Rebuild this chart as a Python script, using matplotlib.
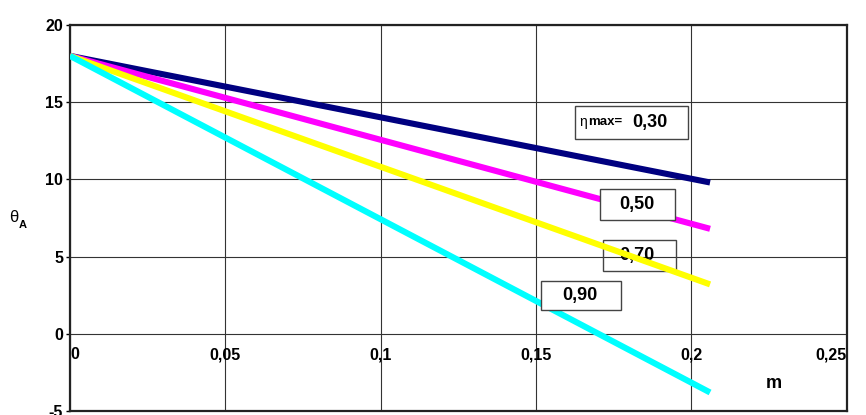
import matplotlib.pyplot as plt
from matplotlib.patches import Rectangle

plt.rcParams['font.family'] = ['Liberation Sans', 'DejaVu Sans']

# coefficient m (start and end of each line)
m = [0, 0.206]
# theta_A for each eta_max value
theta_030 = [18.0, 9.8]
theta_050 = [18.0, 6.8]
theta_070 = [18.0, 3.2]
theta_090 = [18.0, -3.8]

colors = ['#000080', '#ff00ff', '#ffff00', '#00ffff']
x_ticks = [0, 0.05, 0.1, 0.15, 0.2, 0.25]
x_tick_labels = ['0', '0,05', '0,1', '0,15', '0,2', '0,25']
y_ticks = [-5, 0, 5, 10, 15, 20]

fig = plt.figure(figsize=(8.66, 4.15), dpi=100)
ax = fig.add_axes([0.0808, 0.0096, 0.897, 0.9302])

# boxed curve labels: (x0, y0, width, height, filled)
boxes = [
    (0.1625, 12.63, 0.0363, 2.14, True),
    (0.1705, 7.38, 0.0242, 2.01, True),
    (0.1715, 4.08, 0.0235, 2.01, False),
    (0.1515, 1.55, 0.0258, 1.88, True),
]
for x0, y0, w, h, filled in boxes:
    ax.add_patch(Rectangle((x0, y0), w, h, facecolor='white' if filled else 'none',
                           edgecolor='#444444', lw=1.0, zorder=4 if filled else 2))

for theta, c in zip([theta_030, theta_050, theta_070, theta_090], colors):
    ax.plot(m, theta, color=c, lw=4.4, solid_capstyle='butt', zorder=3)

ax.set_xlim(0, 0.25)
ax.set_ylim(-5, 20)
ax.set_xticks(x_ticks)
ax.set_yticks(y_ticks)
ax.set_xticklabels([])
ax.set_yticklabels([str(v) for v in y_ticks], fontsize=11.5, fontweight='bold')
ax.tick_params(axis='x', length=0)
ax.tick_params(axis='y', length=3, width=1, pad=2)
ax.grid(True, color='#333333', lw=0.8)
for s in ax.spines.values():
    s.set_linewidth(1.6)
    s.set_color('#222222')

# x tick labels sit inside the plot, just under the zero line
for xv, lab in zip(x_ticks, x_tick_labels):
    ha = 'left' if xv == 0 else ('right' if xv == 0.25 else 'center')
    ax.text(xv, -1.35, lab, ha=ha, va='center', fontsize=11.5, fontweight='bold')

ax.text(0.2265, -3.25, 'm', ha='center', va='center', fontsize=13, fontweight='bold')
fig.text(0.010, 0.477, 'θ', fontsize=12, ha='left', va='center')
fig.text(0.022, 0.458, 'A', fontsize=8, fontweight='bold', ha='left', va='center')

ax.text(0.1638, 13.7, 'η', fontsize=10, ha='left', va='center', zorder=5)
ax.text(0.1667, 13.7, 'max=', fontsize=9.5, fontweight='bold', ha='left', va='center', zorder=5)
ax.text(0.1808, 13.7, '0,30', fontsize=13, fontweight='bold', ha='left', va='center', zorder=5)
ax.text(0.1826, 8.38, '0,50', fontsize=13, fontweight='bold', ha='center', va='center', zorder=5)
ax.text(0.1825, 5.08, '0,70', fontsize=13, fontweight='bold', ha='center', va='center', zorder=2.5)
ax.text(0.1640, 2.49, '0,90', fontsize=13, fontweight='bold', ha='center', va='center', zorder=5)

fig.savefig('out.png', dpi=100)
